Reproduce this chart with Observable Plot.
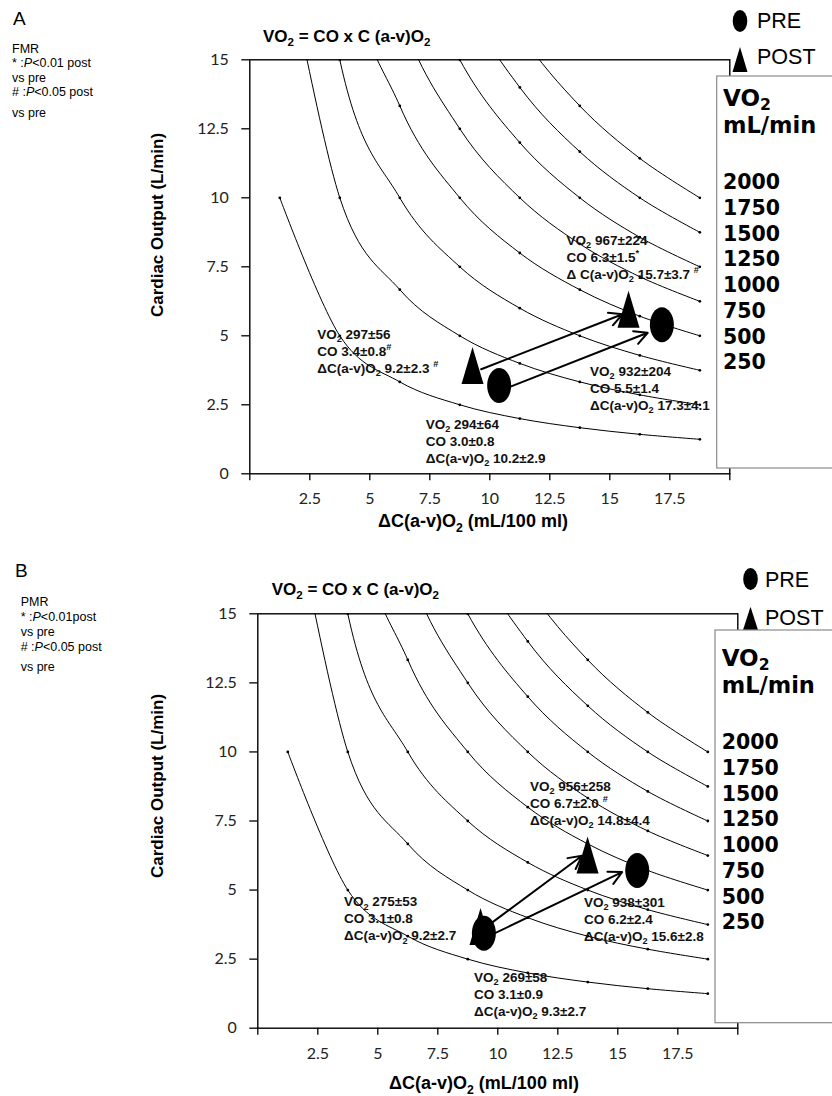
<!DOCTYPE html>
<html>
<head>
<meta charset="utf-8">
<script src="https://cdn.jsdelivr.net/npm/d3@7"></script>
<script src="https://cdn.jsdelivr.net/npm/@observablehq/plot@0.6"></script>
<style>
  html, body { margin: 0; padding: 0; background: #fff; }
  #root { position: relative; width: 832px; height: 1096px; overflow: hidden; background: #fff; }
  #root svg { display: block; }
</style>
</head>
<body>
<div id="root"></div>
<script>
// ---------------- DATA ----------------
const dcPositions = [1.25, 3.75, 6.25, 8.75, 11.25, 13.75, 16.25, 18.75];
const vo2Levels = [250, 500, 750, 1000, 1250, 1500, 1750, 2000];
const co250  = [10, 5, 3.33, 2.5, 2, 1.67, 1.43, 1.25];
const co500  = [20, 10, 6.67, 5, 4, 3.33, 2.86, 2.5];
const co750  = [30, 15, 10, 7.5, 6, 5, 4.29, 3.75];
const co1000 = [40, 20, 13.33, 10, 8, 6.67, 5.71, 5];
const co1250 = [50, 25, 16.67, 12.5, 10, 8.33, 7.14, 6.25];
const co1500 = [60, 30, 20, 15, 12, 10, 8.57, 7.5];
const co1750 = [70, 35, 23.33, 17.5, 14, 11.67, 10, 8.75];
const co2000 = [80, 40, 26.67, 20, 16, 13.33, 11.43, 10];
const coSeries = [co250, co500, co750, co1000, co1250, co1500, co1750, co2000];

const xTicks = [0, 2.5, 5, 7.5, 10, 12.5, 15, 17.5, 20];
const xTickLabels = ["", "2.5", "5", "7.5", "10", "12.5", "15", "17.5", ""];
const yTicks = [0, 2.5, 5, 7.5, 10, 12.5, 15];
const yTickLabels = ["0", "2.5", "5", "7.5", "10", "12.5", "15"];
const legendLevels = ["2000", "1750", "1500", "1250", "1000", "750", "500", "250"];

// Panel A (FMR)
const preA  = [{dc: 10.39, co: 3.20}, {dc: 17.17, co: 5.40}];
const postA = [{dc: 9.28, co: 3.92}, {dc: 15.78, co: 5.96}];
const arrowsA = [
  {dc1: 9.64, co1: 3.79, dc2: 15.53, co2: 5.78},
  {dc1: 10.89, co1: 3.17, dc2: 16.58, co2: 5.11}
];
// Panel B (PMR)
const preB  = [{dc: 9.42, co: 3.44}, {dc: 15.81, co: 5.71}];
const postB = [{dc: 9.28, co: 3.68}, {dc: 13.74, co: 6.27}];
const arrowsB = [
  {dc1: 9.77, co1: 3.83, dc2: 13.51, co2: 6.24},
  {dc1: 9.84, co1: 3.42, dc2: 15.18, co2: 5.65}
];

// annotation texts (anchor in data units: first-line baseline, left)
const annotationsA = [
  {dc: 2.83, co: 4.87, lines: [[["VO"],["2","sub"],[" 297±56"]], [["CO 3.4±0.8"],["#","sup"]], [["ΔC(a-v)O"],["2","sub"],[" 9.2±2.3 "],["#","sup"]]]},
  {dc: 7.35, co: 1.61, lines: [[["VO"],["2","sub"],[" 294±64"]], [["CO 3.0±0.8"]], [["ΔC(a-v)O"],["2","sub"],[" 10.2±2.9"]]]},
  {dc: 14.2, co: 3.54, lines: [[["VO"],["2","sub"],[" 932±204"]], [["CO 5.5±1.4"]], [["ΔC(a-v)O"],["2","sub"],[" 17.3±4.1"]]]},
  {dc: 13.22, co: 8.28, lines: [[["VO"],["2","sub"],[" 967±224"]], [["CO 6.3±1.5"],["*","sup"]], [["Δ C(a-v)O"],["2","sub"],[" 15.7±3.7 "],["#","sup"]]]}
];
const annotationsB = [
  {dc: 3.61, co: 4.39, lines: [[["VO"],["2","sub"],[" 275±53"]], [["CO 3.1±0.8"]], [["ΔC(a-v)O"],["2","sub"],[" 9.2±2.7"]]]},
  {dc: 9.03, co: 1.67, lines: [[["VO"],["2","sub"],[" 269±58"]], [["CO 3.1±0.9"]], [["ΔC(a-v)O"],["2","sub"],[" 9.3±2.7"]]]},
  {dc: 13.61, co: 4.37, lines: [[["VO"],["2","sub"],[" 938±301"]], [["CO 6.2±2.4"]], [["ΔC(a-v)O"],["2","sub"],[" 15.6±2.8"]]]},
  {dc: 11.36, co: 8.58, lines: [[["VO"],["2","sub"],[" 956±258"]], [["CO 6.7±2.0 "],["#","sup"]], [["ΔC(a-v)O"],["2","sub"],[" 14.8±4.4"]]]}
];
const notesA = [[["FMR"]], [["* :"],["P","i"],["<0.01 post"]], [["vs pre"]], [["# :"],["P","i"],["<0.05 post"]], [["vs pre"]]];
const notesB = [[["PMR"]], [["* :"],["P","i"],["<0.01post"]], [["vs pre"]], [["# :"],["P","i"],["<0.05 post"]], [["vs pre"]]];

const curveRows = vo2Levels.flatMap((v, i) => dcPositions.map((d, j) => ({vo2: v, dc: d, co: coSeries[i][j]})));

// ---------------- HELPERS ----------------
const ARIAL = "'Liberation Sans', Arial, sans-serif";
const DEJAVU = "'DejaVu Sans', sans-serif";
const LATO = "Lato, 'Open Sans', sans-serif";

function ellipseSymbol(rx, ry) {
  return {draw(ctx) {
    const k = 0.5523;
    ctx.moveTo(rx, 0);
    ctx.bezierCurveTo(rx, ry * k, rx * k, ry, 0, ry);
    ctx.bezierCurveTo(-rx * k, ry, -rx, ry * k, -rx, 0);
    ctx.bezierCurveTo(-rx, -ry * k, -rx * k, -ry, 0, -ry);
    ctx.bezierCurveTo(rx * k, -ry, rx, -ry * k, rx, 0);
    ctx.closePath();
  }};
}
function triangleSymbol(hw, hh) {
  return {draw(ctx) {
    ctx.moveTo(0, -hh);
    ctx.lineTo(hw, hh);
    ctx.lineTo(-hw, hh);
    ctx.closePath();
  }};
}

function addRich(parent, x, y, lines, o) {
  const size = o.size, lh = o.lineHeight || size * 1.2;
  const subShift = o.subShift != null ? o.subShift : 0.26;
  const t = parent.append("text")
    .attr("font-size", size)
    .attr("font-family", o.family || ARIAL)
    .attr("font-weight", o.weight || "normal")
    .attr("fill", o.fill || "#000")
    .attr("text-anchor", o.anchor || "start");
  if (o.transform) t.attr("transform", o.transform);
  lines.forEach((segs, i) => {
    let shift = 0;
    segs.forEach(([str, kind], j) => {
      const ts = t.append("tspan").text(str);
      const target = kind === "sub" ? subShift * size : kind === "sup" ? -0.4 * size : 0;
      if (j === 0) ts.attr("x", x).attr("y", y + i * lh + target);
      else ts.attr("dy", target - shift);
      shift = target;
      if (kind === "sub" || kind === "sup") ts.attr("font-size", size * 0.68);
      if (kind === "i") ts.attr("font-style", "italic");
    });
  });
  return t;
}

// ---------------- PANELS ----------------
const W = 832, H = 548;
const panels = [
  {
    letter: "A", letterPos: [13, 25],
    frame: {l: 249.3, r: 729.3, t: 59.3, b: 473.3},
    pre: preA, post: postA, arrows: arrowsA, annotations: annotationsA,
    notes: notesA, notesPos: [12, 52.5], notesLH: [14, 15, 14.5, 21],
    titlePos: [263, 41.5],
    yLabelPos: [157, 225], xLabelPos: [473, 527],
    preLeg: {cx: 740, cy: 21, tx: 757, ty: 28.3},
    postLeg: {cx: 740, top: 47, bottom: 72, tx: 757, ty: 63.5},
    box: {x: 716.7, y: 76, h: 392},
    boxText: {x: 723, vo: 105.5, ml: 133, first: 189.3, step: 25.7}
  },
  {
    letter: "B", letterPos: [15, 28.7],
    frame: {l: 257.3, r: 737.3, t: 65.3, b: 479.7},
    pre: preB, post: postB, arrows: arrowsB, annotations: annotationsB,
    notes: notesB, notesPos: [20.7, 58], notesLH: [15, 15, 14.5, 20.5],
    titlePos: [271.7, 47],
    yLabelPos: [157, 238], xLabelPos: [484, 541],
    preLeg: {cx: 750.5, cy: 31, tx: 765, ty: 38.7},
    postLeg: {cx: 750.5, top: 58.7, bottom: 82, tx: 765, ty: 77},
    box: {x: 715, y: 82, h: 392.7},
    boxText: {x: 721.7, vo: 117.5, ml: 145, first: 201.3, step: 25.7}
  }
];

const root = document.getElementById("root");

for (const p of panels) {
  const f = p.frame;
  const chart = Plot.plot({
    width: W, height: H,
    marginLeft: f.l, marginRight: W - f.r, marginTop: f.t, marginBottom: H - f.b,
    x: {domain: [0, 20]},
    y: {domain: [0, 15]},
    style: {fontFamily: ARIAL, background: "white", overflow: "visible", color: "#000"},
    marks: [
      Plot.line(curveRows, {x: "dc", y: "co", z: "vo2", curve: "cardinal", stroke: "#000", strokeWidth: 1, clip: true}),
      Plot.dot(curveRows, {x: "dc", y: "co", r: 1.4, fill: "#000", stroke: null, clip: true}),
      Plot.axisY({ticks: yTicks, tickSize: 8, tickPadding: 13, strokeWidth: 1.3,
        tickFormat: d => yTickLabels[yTicks.indexOf(d)], label: null,
        fontSize: 16, fontFamily: LATO, fill: "#222"}),
      Plot.axisX({ticks: xTicks, tickSize: 7, tickPadding: 12, strokeWidth: 1.3,
        tickFormat: d => xTickLabels[xTicks.indexOf(d)], label: null,
        fontSize: 16, fontFamily: LATO, fill: "#222"}),
      Plot.frame({stroke: "#000", strokeWidth: 1.4}),
      Plot.dot(p.post, {x: "dc", y: "co", symbol: triangleSymbol(11, 18.5), fill: "#000", stroke: null}),
      Plot.dot(p.pre, {x: "dc", y: "co", symbol: ellipseSymbol(12, 17.5), fill: "#000", stroke: null}),
      Plot.arrow(p.arrows, {x1: "dc1", y1: "co1", x2: "dc2", y2: "co2", stroke: "#000", strokeWidth: 2, headLength: 11, headAngle: 55})
    ]
  });
  root.appendChild(chart);
  const svg = d3.select(chart);
  const sx = chart.scale("x"), sy = chart.scale("y");
  const g = svg.append("g").attr("text-anchor", "start");

  // annotations
  for (const a of p.annotations) {
    addRich(g, sx.apply(a.dc), sy.apply(a.co), a.lines, {size: 13.5, weight: "bold", lineHeight: 17, fill: "#111"});
  }

  // panel letter
  g.append("text").attr("x", p.letterPos[0]).attr("y", p.letterPos[1]).attr("text-anchor", "start")
    .attr("font-family", ARIAL).attr("font-size", 19).text(p.letter);

  // notes
  {
    let y = p.notesPos[1];
    p.notes.forEach((line, i) => {
      addRich(g, p.notesPos[0], y, [line], {size: 12.5});
      y += p.notesLH[i] || 0;
    });
  }

  // title
  addRich(g, p.titlePos[0], p.titlePos[1], [[["VO"],["2","sub"],[" = CO x C (a-v)O"],["2","sub"]]], {size: 17, weight: "bold"});

  // axis labels
  addRich(g, 0, 0, [[["Cardiac Output (L/min)"]]], {size: 17, weight: "bold", anchor: "middle",
    transform: `translate(${p.yLabelPos[0] + 6},${p.yLabelPos[1]}) rotate(-90)`});
  addRich(g, p.xLabelPos[0], p.xLabelPos[1], [[["ΔC(a-v)O"],["2","sub"],[" (mL/100 ml)"]]], {size: 18, weight: "bold", anchor: "middle"});

  // legend PRE/POST
  g.append("ellipse").attr("cx", p.preLeg.cx).attr("cy", p.preLeg.cy).attr("rx", 7.3).attr("ry", 11).attr("fill", "#000");
  g.append("text").attr("x", p.preLeg.tx).attr("y", p.preLeg.ty).attr("text-anchor", "start")
    .attr("font-family", ARIAL).attr("font-size", 21.5).text("PRE");
  const pl = p.postLeg;
  g.append("polygon").attr("points", `${pl.cx},${pl.top} ${pl.cx + 7.5},${pl.bottom} ${pl.cx - 7.5},${pl.bottom}`).attr("fill", "#000");
  g.append("text").attr("x", pl.tx).attr("y", pl.ty).attr("text-anchor", "start")
    .attr("font-family", ARIAL).attr("font-size", 21.5).text("POST");

  // VO2 level box
  g.append("rect").attr("x", p.box.x).attr("y", p.box.y).attr("width", 140).attr("height", p.box.h)
    .attr("fill", "#fff").attr("stroke", "#8a8a8a").attr("stroke-width", 1.2);
  const bt = p.boxText;
  addRich(g, bt.x, bt.vo, [[["VO"],["2","sub"]]], {size: 23, weight: "bold", family: DEJAVU, subShift: 0.2});
  addRich(g, bt.x, bt.ml, [[["mL/min"]]], {size: 22.5, weight: "bold", family: DEJAVU});
  legendLevels.forEach((lv, i) => {
    g.append("text").attr("x", bt.x).attr("y", bt.first + i * bt.step).attr("text-anchor", "start")
      .attr("font-family", DEJAVU).attr("font-weight", "bold").attr("font-size", 20.5).attr("fill", "#000").text(lv);
  });
}
</script>
</body>
</html>
